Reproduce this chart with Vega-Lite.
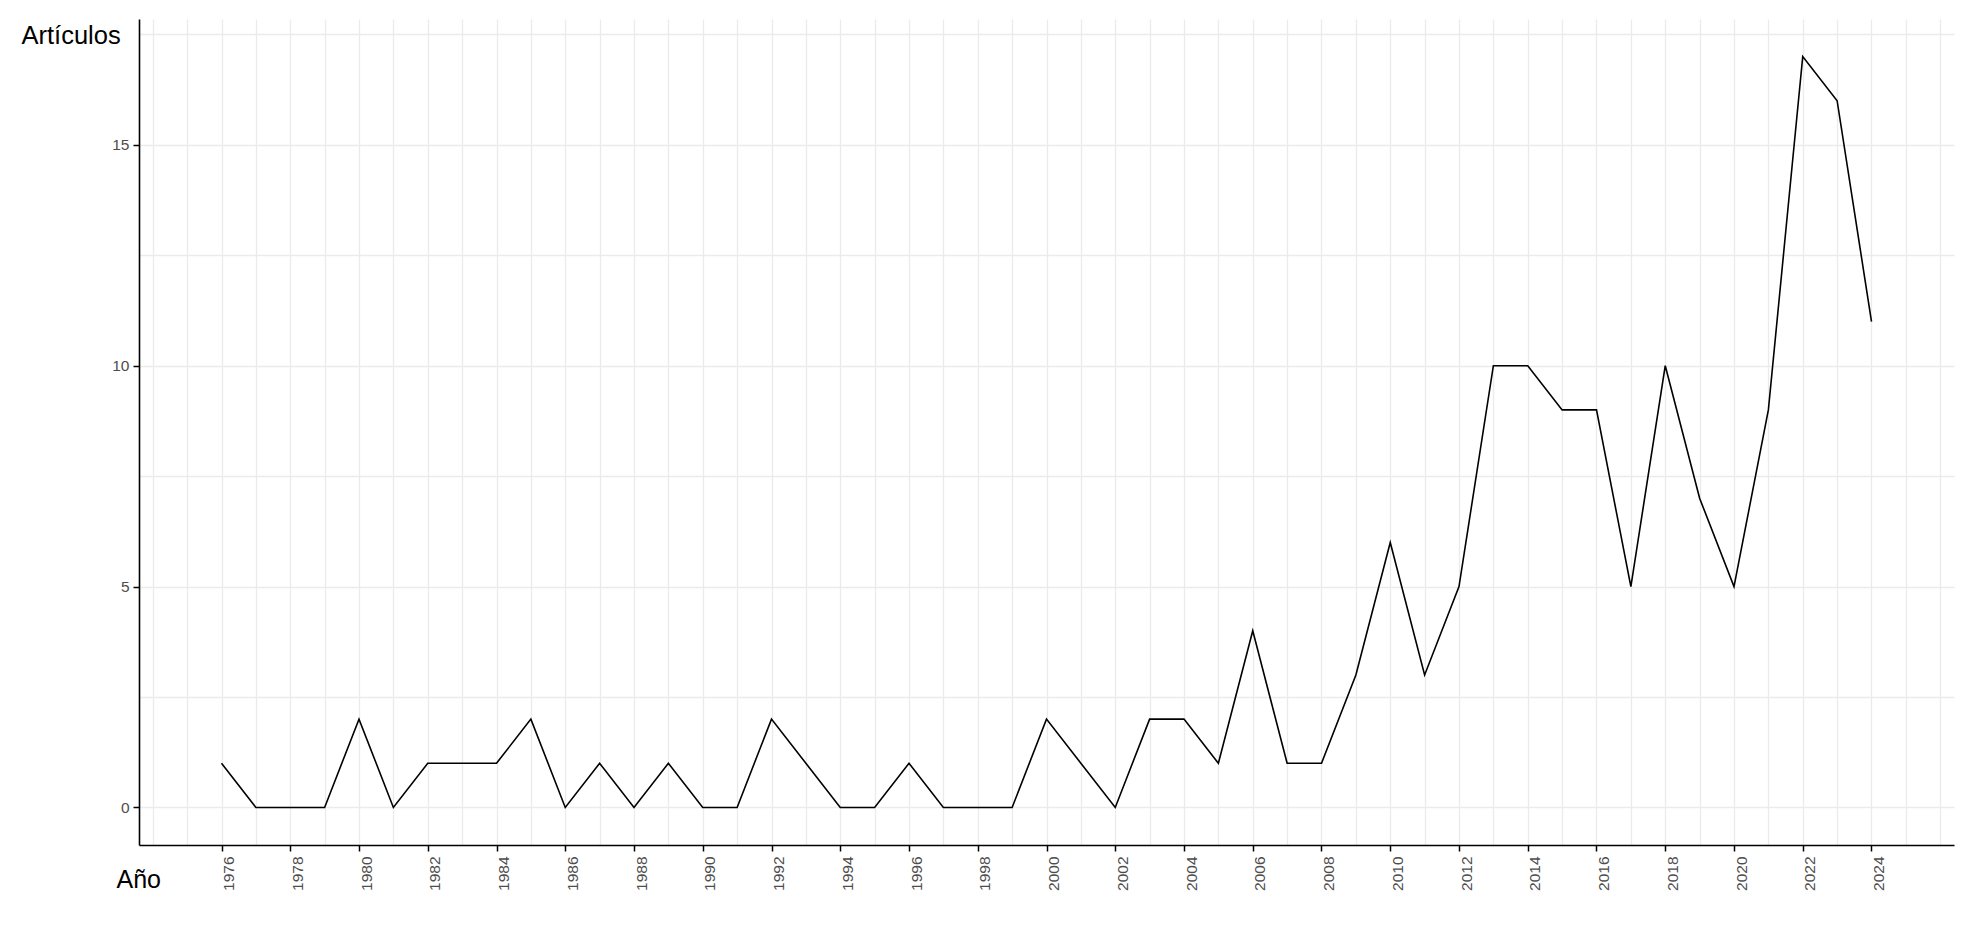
{
  "$schema": "https://vega.github.io/schema/vega-lite/v6.json",
  "autosize": {"type": "none"},
  "padding": {"left": 139, "top": 19, "right": 11, "bottom": 96},
  "width": 1815,
  "height": 826,
  "background": "white",
  "config": {
    "view": {"stroke": null},
    "font": "Liberation Sans"
  },
  "data": {
    "values": [
      {"anio": 1976, "articulos": 1},
      {"anio": 1977, "articulos": 0},
      {"anio": 1978, "articulos": 0},
      {"anio": 1979, "articulos": 0},
      {"anio": 1980, "articulos": 2},
      {"anio": 1981, "articulos": 0},
      {"anio": 1982, "articulos": 1},
      {"anio": 1983, "articulos": 1},
      {"anio": 1984, "articulos": 1},
      {"anio": 1985, "articulos": 2},
      {"anio": 1986, "articulos": 0},
      {"anio": 1987, "articulos": 1},
      {"anio": 1988, "articulos": 0},
      {"anio": 1989, "articulos": 1},
      {"anio": 1990, "articulos": 0},
      {"anio": 1991, "articulos": 0},
      {"anio": 1992, "articulos": 2},
      {"anio": 1993, "articulos": 1},
      {"anio": 1994, "articulos": 0},
      {"anio": 1995, "articulos": 0},
      {"anio": 1996, "articulos": 1},
      {"anio": 1997, "articulos": 0},
      {"anio": 1998, "articulos": 0},
      {"anio": 1999, "articulos": 0},
      {"anio": 2000, "articulos": 2},
      {"anio": 2001, "articulos": 1},
      {"anio": 2002, "articulos": 0},
      {"anio": 2003, "articulos": 2},
      {"anio": 2004, "articulos": 2},
      {"anio": 2005, "articulos": 1},
      {"anio": 2006, "articulos": 4},
      {"anio": 2007, "articulos": 1},
      {"anio": 2008, "articulos": 1},
      {"anio": 2009, "articulos": 3},
      {"anio": 2010, "articulos": 6},
      {"anio": 2011, "articulos": 3},
      {"anio": 2012, "articulos": 5},
      {"anio": 2013, "articulos": 10},
      {"anio": 2014, "articulos": 10},
      {"anio": 2015, "articulos": 9},
      {"anio": 2016, "articulos": 9},
      {"anio": 2017, "articulos": 5},
      {"anio": 2018, "articulos": 10},
      {"anio": 2019, "articulos": 7},
      {"anio": 2020, "articulos": 5},
      {"anio": 2021, "articulos": 9},
      {"anio": 2022, "articulos": 17},
      {"anio": 2023, "articulos": 16},
      {"anio": 2024, "articulos": 11}
    ]
  },
  "mark": {"type": "line", "color": "black", "strokeWidth": 1.6},
  "encoding": {
    "x": {
      "field": "anio",
      "type": "quantitative",
      "scale": {"domain": [1973.6, 2026.4], "nice": false, "zero": false},
      "axis": {
        "title": "Año",
        "titleFont": "Liberation Sans",
        "titleFontSize": 25,
        "titleFontWeight": "normal",
        "titleColor": "black",
        "titleAngle": 0,
        "titleAlign": "left",
        "titleBaseline": "alphabetic",
        "titleX": -23,
        "titleY": 42,
        "values": [1974,1975,1976,1977,1978,1979,1980,1981,1982,1983,1984,1985,1986,1987,1988,1989,1990,1991,1992,1993,1994,1995,1996,1997,1998,1999,2000,2001,2002,2003,2004,2005,2006,2007,2008,2009,2010,2011,2012,2013,2014,2015,2016,2017,2018,2019,2020,2021,2022,2023,2024,2025,2026],
        "format": "d",
        "labelExpr": "(datum.value % 2 === 0 && datum.value >= 1976 && datum.value <= 2024) ? datum.label : ''",
        "labelAngle": 270,
        "labelAlign": "right",
        "labelBaseline": "top",
        "labelFontSize": 15.5,
        "labelColor": "#4d4d4d",
        "labelPadding": 5,
        "labelOverlap": false,
        "labelFlush": false,
        "tickColor": "black",
        "tickSize": 6,
        "tickWidth": 1.5,
        "tickOpacity": {"condition": {"test": "datum.value % 2 === 0 && datum.value >= 1976 && datum.value <= 2024", "value": 1}, "value": 0},
        "domainColor": "black",
        "domainWidth": 1.6,
        "grid": true,
        "gridColor": "#ebebeb",
        "gridWidth": 1.3
      }
    },
    "y": {
      "field": "articulos",
      "type": "quantitative",
      "scale": {"domain": [-0.85, 17.85], "nice": false, "zero": false},
      "axis": {
        "title": "Artículos",
        "titleFont": "Liberation Sans",
        "titleFontSize": 25.5,
        "titleFontWeight": "normal",
        "titleColor": "black",
        "titleAngle": 0,
        "titleAlign": "left",
        "titleBaseline": "alphabetic",
        "titleX": -118,
        "titleY": 24,
        "values": [0, 2.5, 5, 7.5, 10, 12.5, 15, 17.5],
        "labelExpr": "(datum.value % 5 === 0) ? datum.label : ''",
        "labelFontSize": 15.5,
        "labelColor": "#4d4d4d",
        "labelPadding": 4,
        "tickColor": "black",
        "tickSize": 6,
        "tickWidth": 1.5,
        "tickOpacity": {"condition": {"test": "datum.value % 5 === 0", "value": 1}, "value": 0},
        "domainColor": "black",
        "domainWidth": 1.6,
        "grid": true,
        "gridColor": "#ebebeb",
        "gridWidth": 1.3
      }
    }
  }
}
